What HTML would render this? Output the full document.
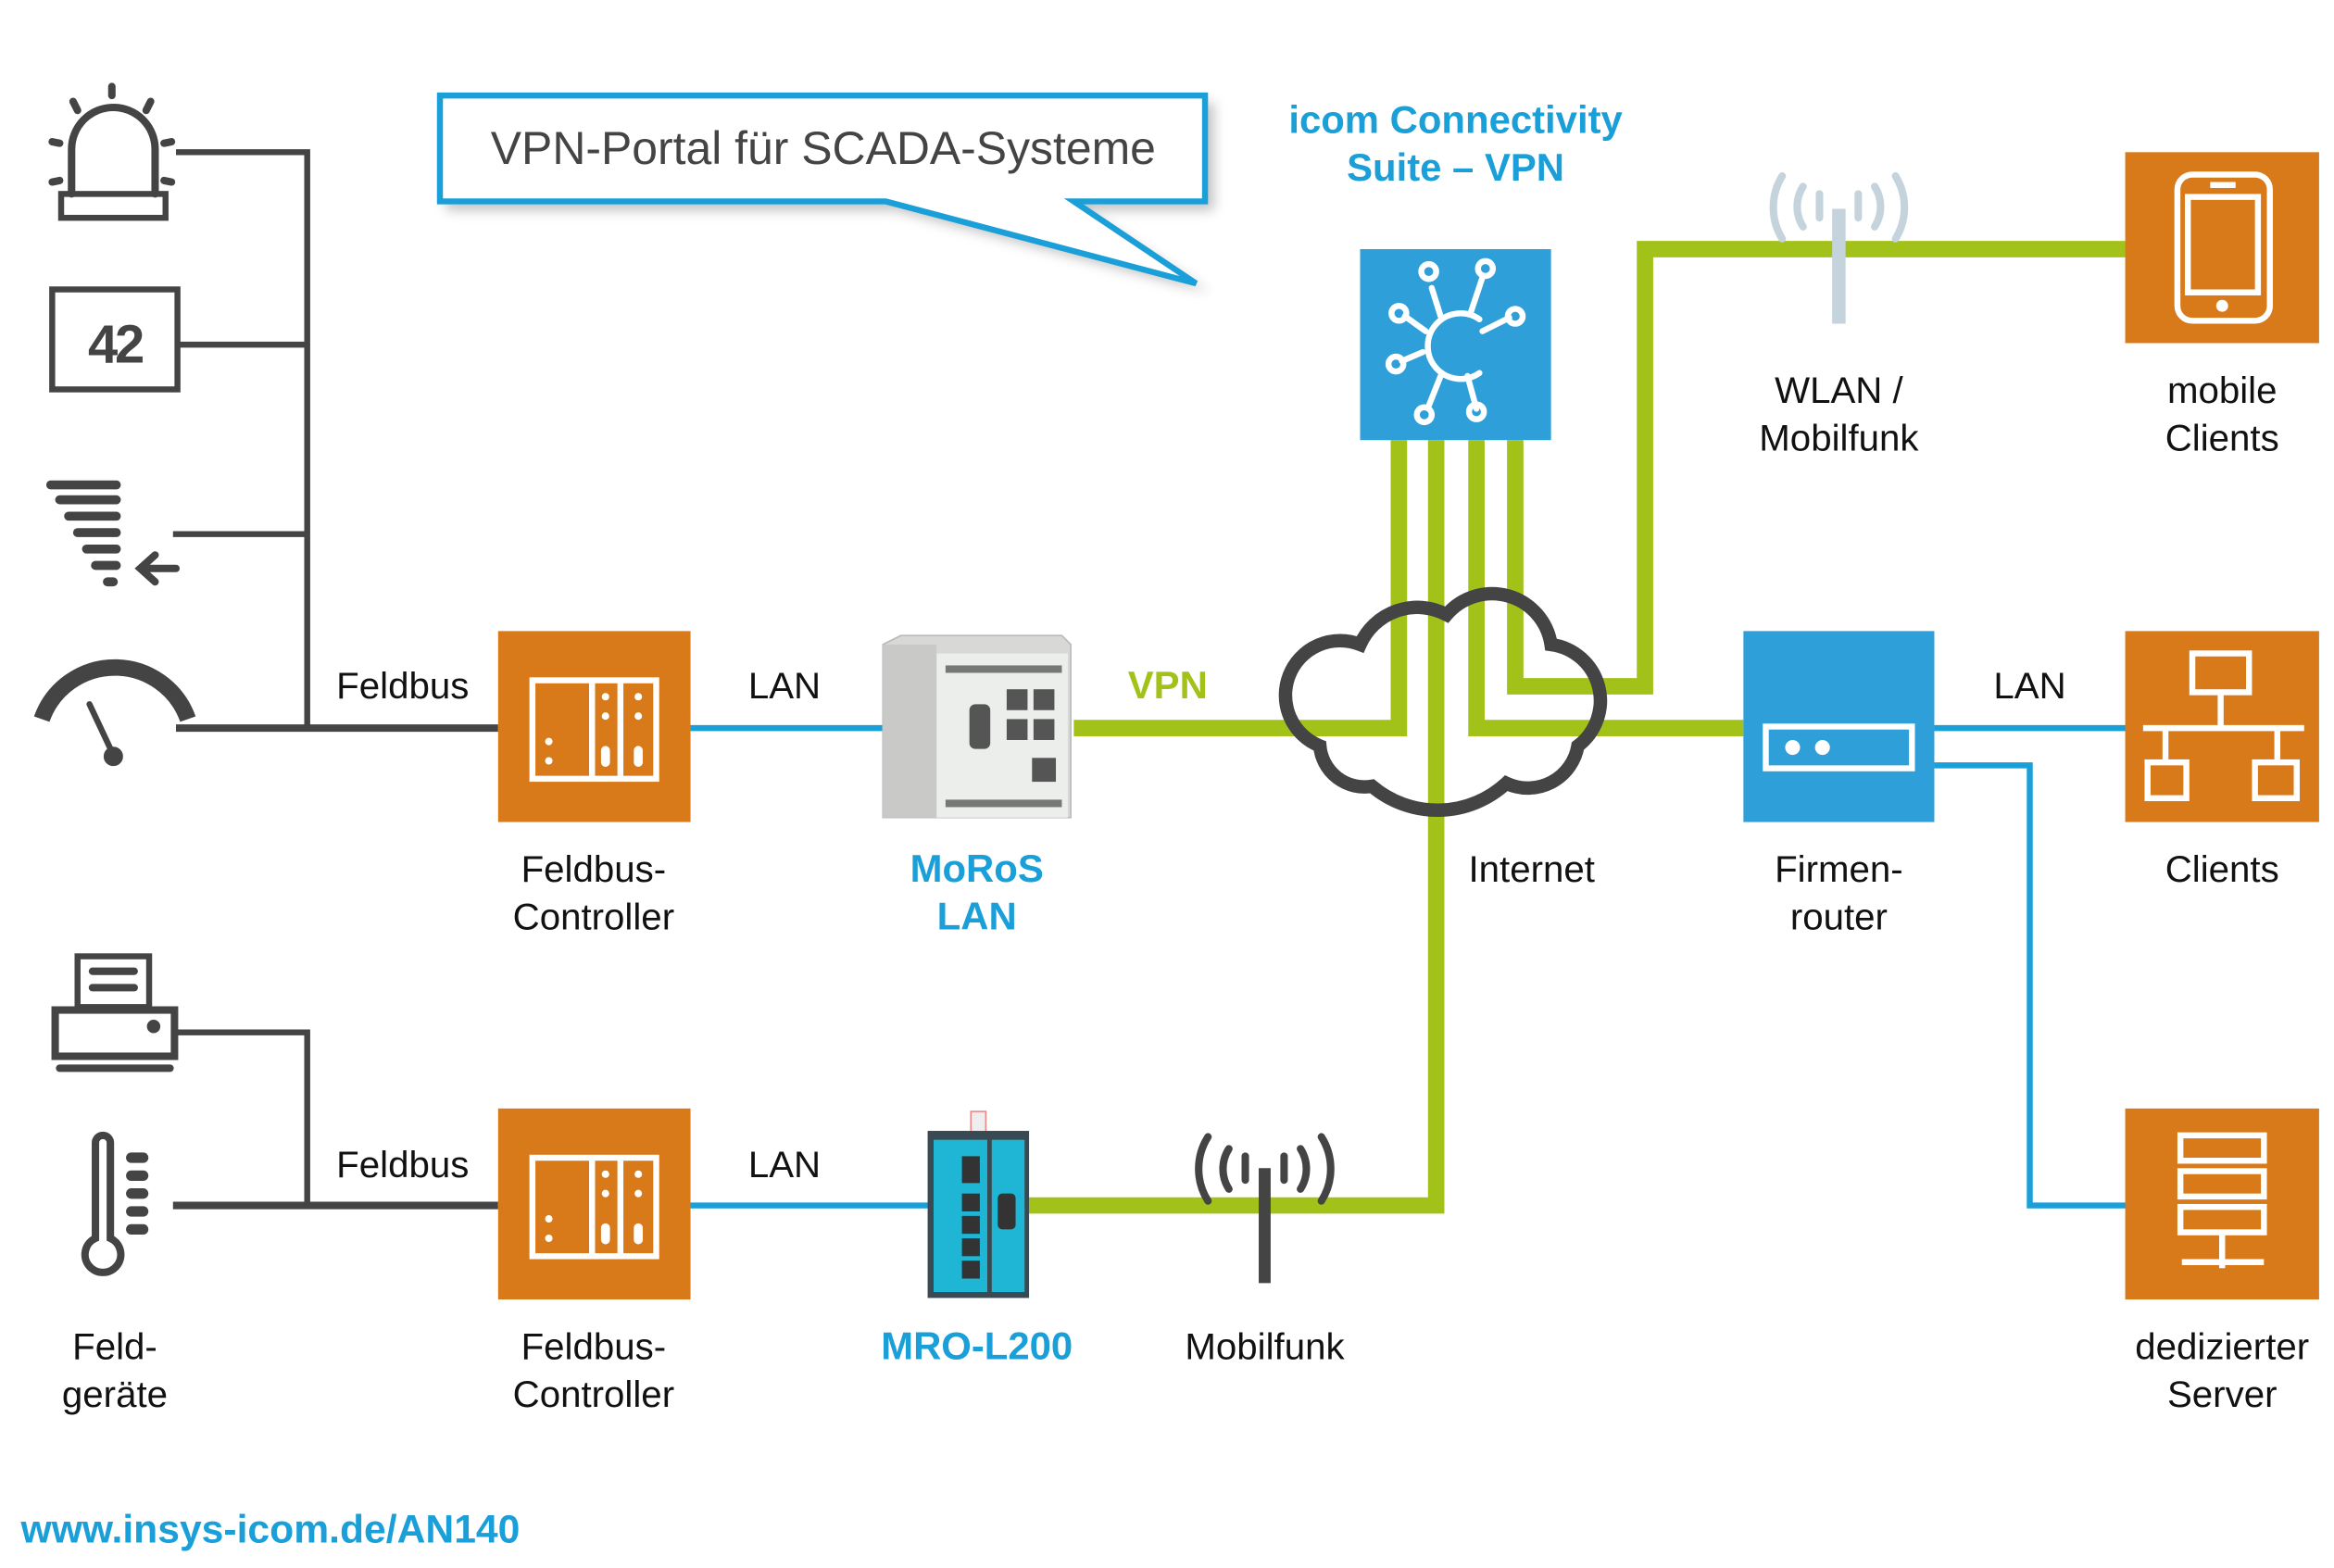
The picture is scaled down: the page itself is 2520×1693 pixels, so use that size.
<!DOCTYPE html>
<html><head><meta charset="utf-8"><style>
html,body{margin:0;padding:0;background:#fff;}
svg{display:block;}
text{font-family:"Liberation Sans",Arial,sans-serif;}
</style></head><body>
<svg width="2520" height="1693" viewBox="0 0 1565 1051" preserveAspectRatio="none" xmlns="http://www.w3.org/2000/svg">
<defs>
<filter id="sh" x="-10%" y="-30%" width="130%" height="180%"><feGaussianBlur stdDeviation="4"/></filter>
</defs>
<rect width="1565" height="1051" fill="#fff"/>

<g stroke="#444" stroke-width="4" fill="none">
<polyline points="118,102 206,102 206,488"/>
<line x1="120" y1="231" x2="206" y2="231"/>
<line x1="116" y1="358" x2="206" y2="358"/>
<line x1="118" y1="488" x2="334" y2="488" stroke-width="5"/>
<polyline points="118,692 206,692 206,808"/>
<line x1="116" y1="808" x2="334" y2="808" stroke-width="5"/>
</g>

<g stroke="#444" fill="none" stroke-width="5" stroke-linecap="round">
<path d="M48,130 V100 A28,28 0 0 1 104,100 V130"/>
<rect x="41" y="130" width="70" height="16" stroke-width="4"/>
<line x1="75" y1="58" x2="75" y2="64"/><line x1="49" y1="68" x2="52" y2="74"/><line x1="101" y1="68" x2="98" y2="74"/>
<line x1="35" y1="95" x2="40" y2="96"/><line x1="110" y1="96" x2="115" y2="95"/>
<line x1="35" y1="122" x2="40" y2="121"/><line x1="110" y1="121" x2="115" y2="122"/>
<rect x="35" y="194" width="84" height="67" stroke-width="4"/>
<g stroke-width="6">
<line x1="34" y1="325" x2="78" y2="325"/><line x1="40" y1="335" x2="78" y2="335"/><line x1="46" y1="346" x2="78" y2="346"/>
<line x1="52" y1="357" x2="78" y2="357"/><line x1="58" y1="368" x2="78" y2="368"/><line x1="64" y1="379" x2="78" y2="379"/><line x1="72" y1="390" x2="76" y2="390"/>
</g>
<path d="M118,381 H94 M104,372 L94,381 L104,390" stroke-width="5"/>
<path d="M28,482 A52,52 0 0 1 126,482" stroke-width="11" stroke-linecap="butt"/>
<line x1="60" y1="472" x2="76" y2="506" stroke-width="4"/>
<circle cx="76" cy="507" r="4" fill="#444"/>
<rect x="52" y="641" width="48" height="34" stroke-width="4"/>
<line x1="62" y1="651" x2="90" y2="651" stroke-width="5"/><line x1="62" y1="662" x2="90" y2="662" stroke-width="5"/>
<rect x="37" y="677" width="80" height="31" stroke-width="5"/>
<line x1="40" y1="716" x2="114" y2="716" stroke-width="5"/>
<circle cx="103" cy="688" r="2" fill="#444"/>
<path d="M64,766 A5,5 0 0 1 74,766 V830 A12,12 0 1 1 64,830 Z" stroke-width="5"/>
<g stroke-width="7"><line x1="88" y1="776" x2="96" y2="776"/><line x1="88" y1="788" x2="96" y2="788"/><line x1="88" y1="800" x2="96" y2="800"/><line x1="88" y1="812" x2="96" y2="812"/><line x1="88" y1="824" x2="96" y2="824"/></g>
</g>
<text x="77" y="243" font-size="36" fill="#444" text-anchor="middle" font-weight="bold" letter-spacing="-2">42</text>

<path d="M299,69 H814 V141 H726 L811,196 L600,141 H299 Z" fill="#888" opacity="0.5" filter="url(#sh)"/>
<path d="M295,64 H808 V135 H720 L802,190 L594,135 H295 Z" fill="#fff" stroke="#1a9fd8" stroke-width="4"/>
<text x="552" y="110" font-size="31" fill="#444" text-anchor="middle">VPN-Portal für SCADA-Systeme</text>

<text x="976" y="89" font-size="26" fill="#1a9fd8" text-anchor="middle" font-weight="bold">icom Connectivity</text>
<text x="976" y="121" font-size="26" fill="#1a9fd8" text-anchor="middle" font-weight="bold">Suite – VPN</text>

<g stroke="#1a9fd8" stroke-width="4" fill="none">
<line x1="463" y1="488" x2="592" y2="488"/>
<line x1="1297" y1="488" x2="1426" y2="488"/>
<polyline points="1297,513 1361,513 1361,808 1426,808"/>
<line x1="463" y1="808" x2="625" y2="808"/>
</g>

<g stroke="#a2c21a" stroke-width="11" fill="none" stroke-linejoin="miter">
<polyline points="720,488 938,488 938,295"/>
<polyline points="690,808 963,808 963,295"/>
<polyline points="1169,488 990,488 990,295"/>
<polyline points="1016,295 1016,460 1103,460 1103,167 1426,167"/>
</g>

<path d="M885,500 A36,36 0 0 1 912,432 A42,42 0 0 1 970,412 A40,40 0 0 1 1040,432 A38,38 0 0 1 1058,500 A34,34 0 0 1 1010,525 A68,68 0 0 1 920,527 A30,30 0 0 1 885,500 Z" fill="none" stroke="#444" stroke-width="9"/>

<rect x="912" y="167" width="128" height="128" fill="#2e9fd8"/>
<g stroke="#fff" stroke-width="4" fill="none" stroke-linecap="round">
<path d="M992,214 A22,22 0 1 0 992,250"/>
<line x1="960" y1="193" x2="966" y2="212"/><line x1="994" y1="186" x2="986" y2="210"/>
<line x1="942" y1="212" x2="956" y2="222"/><line x1="1012" y1="213" x2="994" y2="222"/>
<line x1="940" y1="242" x2="954" y2="236"/><line x1="958" y1="272" x2="966" y2="252"/><line x1="990" y1="274" x2="984" y2="252"/>
<circle cx="958" cy="182" r="5"/><circle cx="996" cy="180" r="5"/><circle cx="938" cy="210" r="5"/><circle cx="1016" cy="212" r="5"/>
<circle cx="936" cy="244" r="5"/><circle cx="955" cy="278" r="5"/><circle cx="990" cy="276" r="5"/>
</g>

<g fill="#d97a1a">
<rect x="334" y="423" width="129" height="128"/>
<rect x="334" y="743" width="129" height="128"/>
<rect x="1425" y="102" width="130" height="128"/>
<rect x="1425" y="423" width="130" height="128"/>
<rect x="1425" y="743" width="130" height="128"/>
</g>
<g stroke="#fff" stroke-width="4" fill="none">
<rect x="357" y="456" width="83" height="66"/><line x1="397" y1="456" x2="397" y2="522"/><line x1="416" y1="456" x2="416" y2="522"/>
<rect x="357" y="776" width="83" height="66"/><line x1="397" y1="776" x2="397" y2="842"/><line x1="416" y1="776" x2="416" y2="842"/>
</g>
<g fill="#fff">
<circle cx="368" cy="497" r="2.5"/><circle cx="368" cy="510" r="2.5"/><circle cx="406" cy="467" r="2.5"/><circle cx="406" cy="480" r="2.5"/><circle cx="428" cy="467" r="2.5"/><circle cx="428" cy="480" r="2.5"/>
<rect x="403" y="500" width="6" height="14" rx="3"/><rect x="425" y="500" width="6" height="14" rx="3"/>
<circle cx="368" cy="817" r="2.5"/><circle cx="368" cy="830" r="2.5"/><circle cx="406" cy="787" r="2.5"/><circle cx="406" cy="800" r="2.5"/><circle cx="428" cy="787" r="2.5"/><circle cx="428" cy="800" r="2.5"/>
<rect x="403" y="820" width="6" height="14" rx="3"/><rect x="425" y="820" width="6" height="14" rx="3"/>
</g>
<g stroke="#fff" fill="none" stroke-width="4">
<rect x="1460" y="117" width="62" height="98" rx="10"/>
<rect x="1467" y="132" width="47" height="64"/>
</g>
<rect x="1482" y="122" width="17" height="4" fill="#fff"/>
<circle cx="1490" cy="205" r="4" fill="#fff"/>
<g stroke="#fff" fill="none" stroke-width="4">
<rect x="1470" y="438" width="38" height="26"/>
<line x1="1489" y1="464" x2="1489" y2="488"/>
<line x1="1437" y1="488" x2="1545" y2="488"/>
<line x1="1452" y1="488" x2="1452" y2="511"/><line x1="1527" y1="488" x2="1527" y2="511"/>
<rect x="1440" y="511" width="26" height="24"/><rect x="1512" y="511" width="28" height="24"/>
</g>
<g stroke="#fff" fill="none" stroke-width="4">
<rect x="1462" y="761" width="56" height="17"/><rect x="1462" y="785" width="56" height="17"/><rect x="1462" y="809" width="56" height="17"/>
<line x1="1490" y1="826" x2="1490" y2="850"/><line x1="1463" y1="846" x2="1518" y2="846"/>
</g>
<rect x="1169" y="423" width="128" height="128" fill="#2e9fd8"/>
<rect x="1184" y="487" width="98" height="28" fill="none" stroke="#fff" stroke-width="4"/>
<circle cx="1202" cy="501" r="5" fill="#fff"/><circle cx="1222" cy="501" r="5" fill="#fff"/>

<g stroke="#c5d3dc" fill="none" stroke-width="5" stroke-linecap="round">
<line x1="1233" y1="140" x2="1233" y2="217" stroke-width="9" stroke-linecap="butt"/>
<path d="M1195,118 A40,40 0 0 0 1195,160"/><path d="M1271,118 A40,40 0 0 1 1271,160"/>
<path d="M1209,125 A25,25 0 0 0 1209,152"/><path d="M1257,125 A25,25 0 0 1 1257,152"/>
<line x1="1220" y1="130" x2="1220" y2="146"/><line x1="1246" y1="130" x2="1246" y2="146"/>
</g>
<g stroke="#444" fill="none" stroke-width="5" stroke-linecap="round">
<line x1="848" y1="783" x2="848" y2="860" stroke-width="8" stroke-linecap="butt"/>
<path d="M810,762 A40,40 0 0 0 810,805"/><path d="M886,762 A40,40 0 0 1 886,805"/>
<path d="M824,770 A25,25 0 0 0 824,797"/><path d="M872,770 A25,25 0 0 1 872,797"/>
<line x1="835" y1="775" x2="835" y2="791"/><line x1="861" y1="775" x2="861" y2="791"/>
</g>

<path d="M592,432 L604,426 H712 L718,432 V548 H592 Z" fill="#d8d9d7" stroke="#b9bab8" stroke-width="1"/>
<rect x="628" y="438" width="88" height="110" fill="#eceeec"/>
<rect x="592" y="432" width="36" height="116" fill="#c9cac8"/>
<g fill="#555">
<rect x="675" y="462" width="14" height="14"/><rect x="693" y="462" width="14" height="14"/>
<rect x="675" y="482" width="14" height="14"/><rect x="693" y="482" width="14" height="14"/>
<rect x="692" y="508" width="16" height="16"/>
<rect x="650" y="472" width="14" height="30" rx="4"/>
<rect x="634" y="446" width="78" height="5" fill="#777"/>
<rect x="634" y="536" width="78" height="5" fill="#777"/>
</g>

<rect x="651" y="745" width="10" height="14" fill="#eee" stroke="#e88" stroke-width="1"/>
<rect x="622" y="758" width="68" height="112" fill="#3a4a52"/>
<rect x="626" y="764" width="36" height="102" fill="#1fb6d6"/>
<rect x="665" y="764" width="22" height="102" fill="#1fb6d6"/>
<g fill="#333"><rect x="645" y="775" width="12" height="18"/><rect x="645" y="800" width="12" height="12"/><rect x="645" y="815" width="12" height="12"/><rect x="645" y="830" width="12" height="12"/><rect x="645" y="845" width="12" height="12"/><rect x="669" y="800" width="12" height="24" rx="3"/></g>

<g font-size="25" fill="#111" text-anchor="middle">
<text x="270" y="468">Feldbus</text>
<text x="526" y="468">LAN</text>
<text x="1361" y="468">LAN</text>
<text x="270" y="789">Feldbus</text>
<text x="526" y="789">LAN</text>
<text x="398" y="591">Feldbus-</text><text x="398" y="623">Controller</text>
<text x="398" y="911">Feldbus-</text><text x="398" y="943">Controller</text>
<text x="1027" y="591">Internet</text>
<text x="1233" y="591">Firmen-</text><text x="1233" y="623">router</text>
<text x="1490" y="591">Clients</text>
<text x="1233" y="270">WLAN /</text><text x="1233" y="302">Mobilfunk</text>
<text x="1490" y="270">mobile</text><text x="1490" y="302">Clients</text>
<text x="77" y="911">Feld-</text><text x="77" y="943">geräte</text>
<text x="848" y="911">Mobilfunk</text>
<text x="1490" y="911">dedizierter</text><text x="1490" y="943">Server</text>
</g>
<g font-size="26" font-weight="bold" text-anchor="middle">
<text x="783" y="468" fill="#a2c21a">VPN</text>
<text x="655" y="591" fill="#1a9fd8">MoRoS</text><text x="655" y="623" fill="#1a9fd8">LAN</text>
<text x="655" y="911" fill="#1a9fd8">MRO-L200</text>
</g>
<text x="14" y="1034" font-size="26.5" font-weight="bold" fill="#1a9fd8">www.insys-icom.de/AN140</text>
</svg>
</body></html>
